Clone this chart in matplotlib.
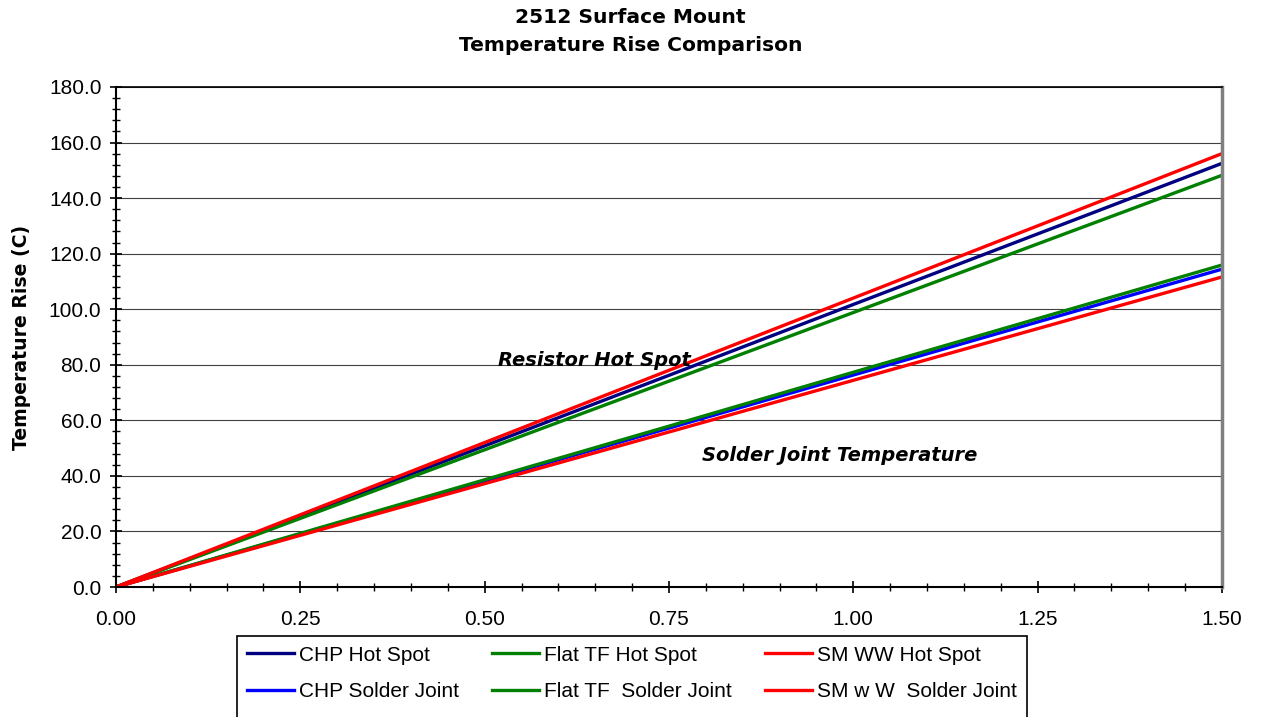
import numpy as np
import matplotlib.pyplot as plt
from matplotlib.patches import Rectangle
from matplotlib.ticker import MultipleLocator, FormatStrFormatter

plt.rcParams['font.family'] = ['Liberation Sans', 'DejaVu Sans']

# current (A) vs temperature rise (C)
current = [0.0, 0.25, 0.5, 0.75, 1.0, 1.25, 1.5]
chp_hot = [0.0, 25.4, 50.8, 76.2, 101.7, 127.1, 152.5]
flat_hot = [0.0, 24.7, 49.4, 74.1, 98.8, 123.5, 148.2]
smww_hot = [0.0, 26.0, 52.0, 78.0, 104.0, 130.0, 156.0]
chp_sj = [0.0, 19.1, 38.2, 57.2, 76.3, 95.4, 114.4]
flat_sj = [0.0, 19.3, 38.6, 57.9, 77.3, 96.6, 115.9]
smww_sj = [0.0, 18.6, 37.2, 55.8, 74.4, 93.0, 111.6]

series = [
    ("CHP Hot Spot", chp_hot, "#000080"),
    ("CHP Solder Joint", chp_sj, "#0000ff"),
    ("Flat TF Hot Spot", flat_hot, "#008000"),
    ("Flat TF  Solder Joint", flat_sj, "#008000"),
    ("SM WW Hot Spot", smww_hot, "#ff0000"),
    ("SM w W  Solder Joint", smww_sj, "#ff0000"),
]

fig = plt.figure(figsize=(12.61, 7.17), dpi=100)
ax = fig.add_axes([0.092, 0.1813, 0.877, 0.6974])

for name, vals, col in series:
    ax.plot(current, vals, color=col, lw=2.4, label=name)

ax.set_xlim(0, 1.5)
ax.set_ylim(0, 180)
ax.xaxis.set_major_locator(MultipleLocator(0.25))
ax.xaxis.set_minor_locator(MultipleLocator(0.05))
ax.yaxis.set_major_locator(MultipleLocator(20))
ax.yaxis.set_minor_locator(MultipleLocator(4))
ax.xaxis.set_major_formatter(FormatStrFormatter('%.2f'))
ax.yaxis.set_major_formatter(FormatStrFormatter('%.1f'))
ax.tick_params(which='major', direction='inout', length=9, width=1.2, labelsize=15, pad=6)
ax.tick_params(which='minor', direction='inout', length=6, width=1.0)
ax.tick_params(axis='x', which='major', pad=12)
ax.grid(axis='y', which='major', color='#404040', lw=0.8)
ax.set_axisbelow(True)

ax.spines['left'].set_linewidth(1.5)
ax.spines['bottom'].set_linewidth(1.5)
ax.spines['top'].set_linewidth(1.2)
ax.spines['right'].set_color('#808080')
ax.spines['right'].set_linewidth(2.5)

ax.set_ylabel('Temperature Rise (C)', fontsize=13.6, fontweight='bold', labelpad=13,
              family='DejaVu Sans')
fig.text(0.5, 0.976, '2512 Surface Mount', fontsize=14.6, fontweight='bold',
         family='DejaVu Sans', ha='center', va='center')
fig.text(0.5, 0.936, 'Temperature Rise Comparison', fontsize=14.6, fontweight='bold',
         family='DejaVu Sans', ha='center', va='center')

ax.text(0.518, 81.7, 'Resistor Hot Spot', fontsize=14, fontweight='bold',
        fontstyle='italic', va='center', ha='left', family='DejaVu Sans')
ax.text(0.795, 47.2, 'Solder Joint Temperature', fontsize=14, fontweight='bold',
        fontstyle='italic', va='center', ha='left', family='DejaVu Sans')

handles, labels = ax.get_legend_handles_labels()
leg = fig.legend(handles, labels, ncol=3, loc='upper left',
                 bbox_to_anchor=(0.180, 0.127), fontsize=15, frameon=False,
                 handlelength=2.25, handletextpad=0.25, columnspacing=1.6,
                 labelspacing=0.85, borderpad=0.45)

# legend box runs off the bottom of the picture, as in the original
fig.canvas.draw()
bb = leg.get_window_extent()
fig.add_artist(Rectangle((bb.x0, -30), bb.width, bb.y1 + 30, transform=None,
                         fill=False, edgecolor='black', lw=1.2))

fig.savefig('out.png', dpi=100)
